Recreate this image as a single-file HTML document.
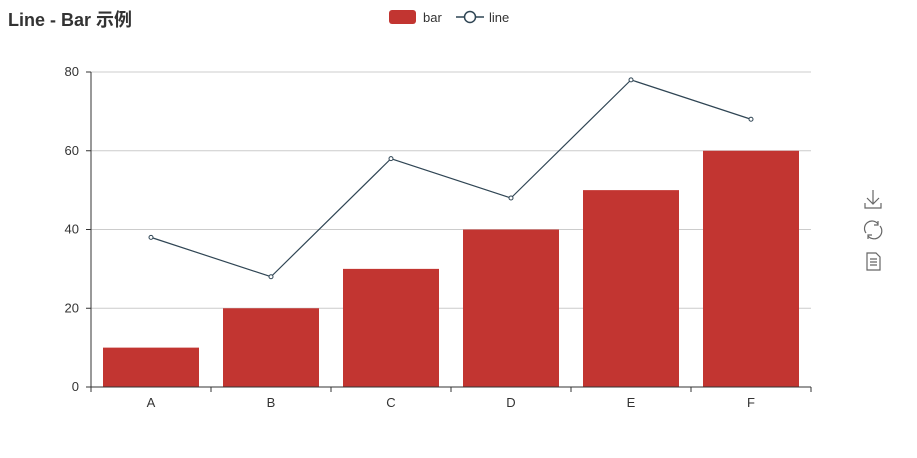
<!DOCTYPE html>
<html><head><meta charset="utf-8"><style>
body{margin:0;background:#fff;width:917px;height:453px;overflow:hidden;font-family:"Liberation Sans","Noto Sans CJK SC",sans-serif}
</style></head><body>
<svg id="c" width="917" height="453" xmlns="http://www.w3.org/2000/svg">
<text x="8" y="26" font-size="18" font-weight="bold" fill="#333" font-family="Liberation Sans, Noto Sans CJK SC, sans-serif">Line - Bar 示例</text>
<g>
<rect x="389" y="10" width="27" height="14" rx="3" fill="#c23531"/>
<text x="423" y="22" font-size="13" fill="#333">bar</text></g>
<g>
<line x1="456" y1="17" x2="484" y2="17" stroke="#2f4554" stroke-width="1.5"/>
<circle cx="470" cy="17" r="5.5" fill="#fff" stroke="#2f4554" stroke-width="1.5"/>
<text x="489" y="22" font-size="13" fill="#333">line</text></g>
<g id="grid"></g><g id="bars"></g><g id="line"></g><g id="axes"></g>
<g fill="none" stroke="#666" stroke-width="1.2">
<path d="M873 190 V203 M867 198 L873 204 L879 198 M865 203 V208 H881 V203"/></g>
<g fill="none" stroke="#666" stroke-width="1.2">
<path d="M866 233 A7 7 0 0 1 878 224 M880 226 A7 7 0 0 1 868 236"/>
<path d="M878 221 V225 H874 M868 239 V235 H872"/></g>
<g fill="none" stroke="#666" stroke-width="1.2">
<path d="M867 253 H876 L880 257 V270 H867 Z M870 259 H877 M870 262 H877 M870 265 H877"/></g>
</svg>
<script>
const categories=["A","B","C","D","E","F"];
const barValues=[10,20,30,40,50,60];
const lineValues=[38,28,58,48,78,68];
const yTicks=[0,20,40,60,80];
const NS="http://www.w3.org/2000/svg";
const X0=91,X1=811,Y0=387,Y1=72,YMAX=80;
const band=(X1-X0)/categories.length;
const xC=i=>X0+band*(i+0.5);
const y=v=>Y0-(v/YMAX)*(Y0-Y1);
function mk(t,a,p){const e=document.createElementNS(NS,t);for(const k in a)e.setAttribute(k,a[k]);p.appendChild(e);return e;}
const grid=document.getElementById('grid'),bars=document.getElementById('bars'),line=document.getElementById('line'),axes=document.getElementById('axes');
yTicks.forEach(t=>{
  if(t>0){const g=mk('line',{x1:X0,x2:X1,y1:y(t),y2:y(t),stroke:'#ccc'},grid);
  
  }
  const tk=mk('line',{x1:X0-5,x2:X0,y1:y(t),y2:y(t),stroke:'#333'},axes);
  
  
  const l=mk('text',{x:X0-12,y:y(t)+4,'font-size':13,fill:'#333','text-anchor':'end'},axes);l.textContent=t;
  
  
});
barValues.forEach((v,i)=>{
  const w=band*0.8;
  const r=mk('rect',{x:xC(i)-w/2,y:y(v),width:w,height:Y0-y(v),fill:'#c23531'},bars);
  
  
});
const p=mk('polyline',{points:lineValues.map((v,i)=>xC(i)+','+y(v)).join(' '),fill:'none',stroke:'#2f4554','stroke-width':1.2},line);


lineValues.forEach((v,i)=>{
  const c=mk('circle',{cx:xC(i),cy:y(v),r:2,fill:'#fff',stroke:'#2f4554','stroke-width':1},line);
  
  
});
const ya=mk('line',{x1:X0,x2:X0,y1:Y1,y2:Y0,stroke:'#333'},axes);


const xa=mk('line',{x1:X0,x2:X1,y1:Y0,y2:Y0,stroke:'#333'},axes);


for(let i=0;i<=categories.length;i++){
  const t=mk('line',{x1:X0+band*i,x2:X0+band*i,y1:Y0,y2:Y0+5,stroke:'#333'},axes);
  
  
}
categories.forEach((c,i)=>{
  const l=mk('text',{x:xC(i),y:Y0+20,'font-size':13,fill:'#333','text-anchor':'middle'},axes);l.textContent=c;
  
  
});
</script>
</body></html>
